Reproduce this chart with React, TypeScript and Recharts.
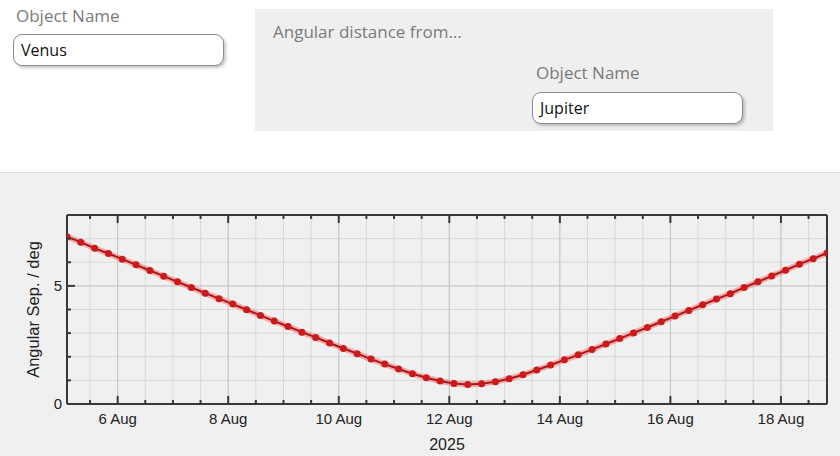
import React from 'react';
import { LineChart, Line, XAxis, YAxis, CartesianGrid, ReferenceLine, Label } from 'recharts';

// Time in days of August 2025 (6-hour steps, 5 Aug 02:00 .. 18 Aug 20:00)
const times: number[] = [
  5.0833, 5.3333, 5.5833, 5.8333, 6.0833, 6.3333, 6.5833, 6.8333,
  7.0833, 7.3333, 7.5833, 7.8333, 8.0833, 8.3333, 8.5833, 8.8333,
  9.0833, 9.3333, 9.5833, 9.8333, 10.0833, 10.3333, 10.5833, 10.8333,
  11.0833, 11.3333, 11.5833, 11.8333, 12.0833, 12.3333, 12.5833, 12.8333,
  13.0833, 13.3333, 13.5833, 13.8333, 14.0833, 14.3333, 14.5833, 14.8333,
  15.0833, 15.3333, 15.5833, 15.8333, 16.0833, 16.3333, 16.5833, 16.8333,
  17.0833, 17.3333, 17.5833, 17.8333, 18.0833, 18.3333, 18.5833, 18.8333,
];

// Angular separation Venus–Jupiter, degrees
const separation: number[] = [
  7.08, 6.85, 6.59, 6.37, 6.13, 5.89, 5.65, 5.41,
  5.17, 4.93, 4.69, 4.46, 4.23, 3.99, 3.75, 3.51,
  3.28, 3.04, 2.82, 2.58, 2.35, 2.13, 1.90, 1.69,
  1.48, 1.28, 1.11, 0.97, 0.87, 0.83, 0.86, 0.94,
  1.07, 1.24, 1.44, 1.65, 1.87, 2.08, 2.31, 2.54,
  2.77, 3.01, 3.24, 3.48, 3.72, 3.96, 4.20, 4.44,
  4.67, 4.93, 5.17, 5.42, 5.66, 5.92, 6.15, 6.39,
];

const xTicks: number[] = [
  5.5, 6, 6.5, 7, 7.5, 8, 8.5, 9, 9.5, 10, 10.5, 11, 11.5, 12, 12.5,
  13, 13.5, 14, 14.5, 15, 15.5, 16, 16.5, 17, 17.5, 18, 18.5,
];
const xMajor: number[] = [6, 8, 10, 12, 14, 16, 18];
const xLabels: string[] = ['6 Aug', '8 Aug', '10 Aug', '12 Aug', '14 Aug', '16 Aug', '18 Aug'];

const yTicks: number[] = [0, 1, 2, 3, 4, 5, 6, 7, 8];
const yMajor: number[] = [0, 5];
const yLabels: string[] = ['0', '5'];

const xDomain: [number, number] = [5.0833, 18.8333];
const yDomain: [number, number] = [0, 8];

const data = times.map((t, i) => ({ t, sep: separation[i] }));

const FRAME = '#383838';
const TEXT = '#222222';
const CHART_FONT = '"Liberation Sans", Arial, sans-serif';

const BottomTick = (props: any) => {
  const { x, y, payload } = props;
  const v = payload.value;
  const mi = xMajor.indexOf(v);
  const major = mi >= 0;
  return (
    <g>
      <line x1={x} y1={y} x2={x} y2={y - (major ? 8 : 4)} stroke={FRAME} strokeWidth={2} />
      {major && (
        <text x={x} y={y + 20} textAnchor="middle" fill={TEXT} fontSize={15} fontFamily={CHART_FONT}>
          {xLabels[mi]}
        </text>
      )}
    </g>
  );
};

const TopTick = (props: any) => {
  const { x, y, payload } = props;
  const major = xMajor.indexOf(payload.value) >= 0;
  return <line x1={x} y1={y} x2={x} y2={y + (major ? 8 : 4)} stroke={FRAME} strokeWidth={2} />;
};

const LeftTick = (props: any) => {
  const { x, y, payload } = props;
  const v = payload.value;
  const mi = yMajor.indexOf(v);
  const major = mi >= 0;
  const edge = v === yDomain[0] || v === yDomain[1];
  return (
    <g>
      {!edge && <line x1={x} y1={y} x2={x + (major ? 8 : 4)} y2={y} stroke={FRAME} strokeWidth={2} />}
      {major && (
        <text x={x - 5} y={y + 5} textAnchor="end" fill={TEXT} fontSize={15} fontFamily={CHART_FONT}>
          {yLabels[mi]}
        </text>
      )}
    </g>
  );
};

const RightTick = (props: any) => {
  const { x, y, payload } = props;
  const v = payload.value;
  const major = yMajor.indexOf(v) >= 0;
  const edge = v === yDomain[0] || v === yDomain[1];
  if (edge) return <g />;
  return <line x1={x} y1={y} x2={x - (major ? 8 : 4)} y2={y} stroke={FRAME} strokeWidth={2} />;
};

const labelStyle: React.CSSProperties = {
  position: 'absolute',
  color: '#7a7a7a',
  fontSize: 17,
  lineHeight: '22px',
  whiteSpace: 'nowrap',
};

const inputStyle: React.CSSProperties = {
  position: 'absolute',
  width: 211,
  height: 32,
  boxSizing: 'border-box',
  border: '1px solid #8c8c8c',
  borderRadius: 9,
  background: '#ffffff',
  boxShadow: '2px 2px 3px rgba(0,0,0,0.22)',
  fontSize: 16,
  lineHeight: '30px',
  paddingLeft: 7,
  color: '#111',
};

export default function App() {
  return (
    <div
      style={{
        position: 'absolute',
        left: 0,
        top: 0,
        width: 840,
        height: 456,
        background: '#ffffff',
        fontFamily: '"Open Sans", "Noto Sans", sans-serif',
        overflow: 'hidden',
      }}
    >
      <div style={{ ...labelStyle, left: 16, top: 5 }}>Object Name</div>
      <div style={{ ...inputStyle, left: 13, top: 34 }}>Venus</div>

      <div style={{ position: 'absolute', left: 255, top: 9, width: 518, height: 122, background: '#efefef' }}>
        <div style={{ ...labelStyle, left: 18, top: 12 }}>Angular distance from...</div>
        <div style={{ ...labelStyle, left: 281, top: 53 }}>Object Name</div>
        <div style={{ ...inputStyle, left: 277, top: 83 }}>Jupiter</div>
      </div>

      <div
        style={{
          position: 'absolute',
          left: 0,
          top: 172,
          width: 840,
          height: 284,
          background: '#f0f0f0',
          borderTop: '1px solid #dcdcdc',
          boxSizing: 'border-box',
        }}
      >
        <LineChart
          width={840}
          height={283}
          data={data}
          margin={{ top: 41, right: 12, bottom: 22, left: 27 }}
        >
          <CartesianGrid xAxisId="b" yAxisId="l" stroke="#d8d8d8" strokeWidth={1} />
          {xMajor.map((v) => (
            <ReferenceLine key={'vx' + v} x={v} xAxisId="b" yAxisId="l" stroke="#c4c4c4" strokeWidth={1} />
          ))}
          <ReferenceLine y={5} xAxisId="b" yAxisId="l" stroke="#c8c8c8" strokeWidth={1} />
          <XAxis
            xAxisId="b"
            dataKey="t"
            type="number"
            domain={xDomain}
            allowDataOverflow
            ticks={xTicks}
            interval={0}
            height={30}
            tickSize={0}
            tickMargin={0}
            axisLine={{ stroke: FRAME, strokeWidth: 2 }}
            tick={<BottomTick />}
          >
            <Label
              value="2025"
              position="bottom"
              offset={5}
              style={{ fontSize: 16, fontFamily: CHART_FONT, fill: TEXT }}
            />
          </XAxis>
          <XAxis
            xAxisId="t"
            orientation="top"
            dataKey="t"
            type="number"
            domain={xDomain}
            allowDataOverflow
            ticks={xTicks}
            interval={0}
            height={1}
            tickSize={0}
            tickMargin={0}
            axisLine={{ stroke: FRAME, strokeWidth: 2 }}
            tick={<TopTick />}
          />
          <YAxis
            yAxisId="l"
            type="number"
            domain={yDomain}
            ticks={yTicks}
            interval={0}
            width={40}
            tickSize={0}
            tickMargin={0}
            axisLine={{ stroke: FRAME, strokeWidth: 2 }}
            tick={<LeftTick />}
          >
            <Label
              value="Angular Sep. / deg"
              angle={-90}
              position="insideLeft"
              offset={6}
              style={{ textAnchor: 'middle', fontSize: 16.5, fontFamily: CHART_FONT, fill: TEXT }}
            />
          </YAxis>
          <YAxis
            yAxisId="r"
            orientation="right"
            type="number"
            domain={yDomain}
            ticks={yTicks}
            interval={0}
            width={1}
            tickSize={0}
            tickMargin={0}
            axisLine={{ stroke: FRAME, strokeWidth: 2 }}
            tick={<RightTick />}
          />
          <Line
            xAxisId="b"
            yAxisId="l"
            type="linear"
            dataKey="sep"
            stroke="#f28080"
            strokeOpacity={0.6}
            strokeWidth={6}
            dot={false}
            activeDot={false}
            isAnimationActive={false}
          />
          <Line
            xAxisId="b"
            yAxisId="l"
            type="linear"
            dataKey="sep"
            stroke="#a81616"
            strokeWidth={2}
            dot={{ r: 3.5, fill: '#cc1a1a', stroke: 'none' }}
            activeDot={false}
            isAnimationActive={false}
          />
        </LineChart>
      </div>
    </div>
  );
}
